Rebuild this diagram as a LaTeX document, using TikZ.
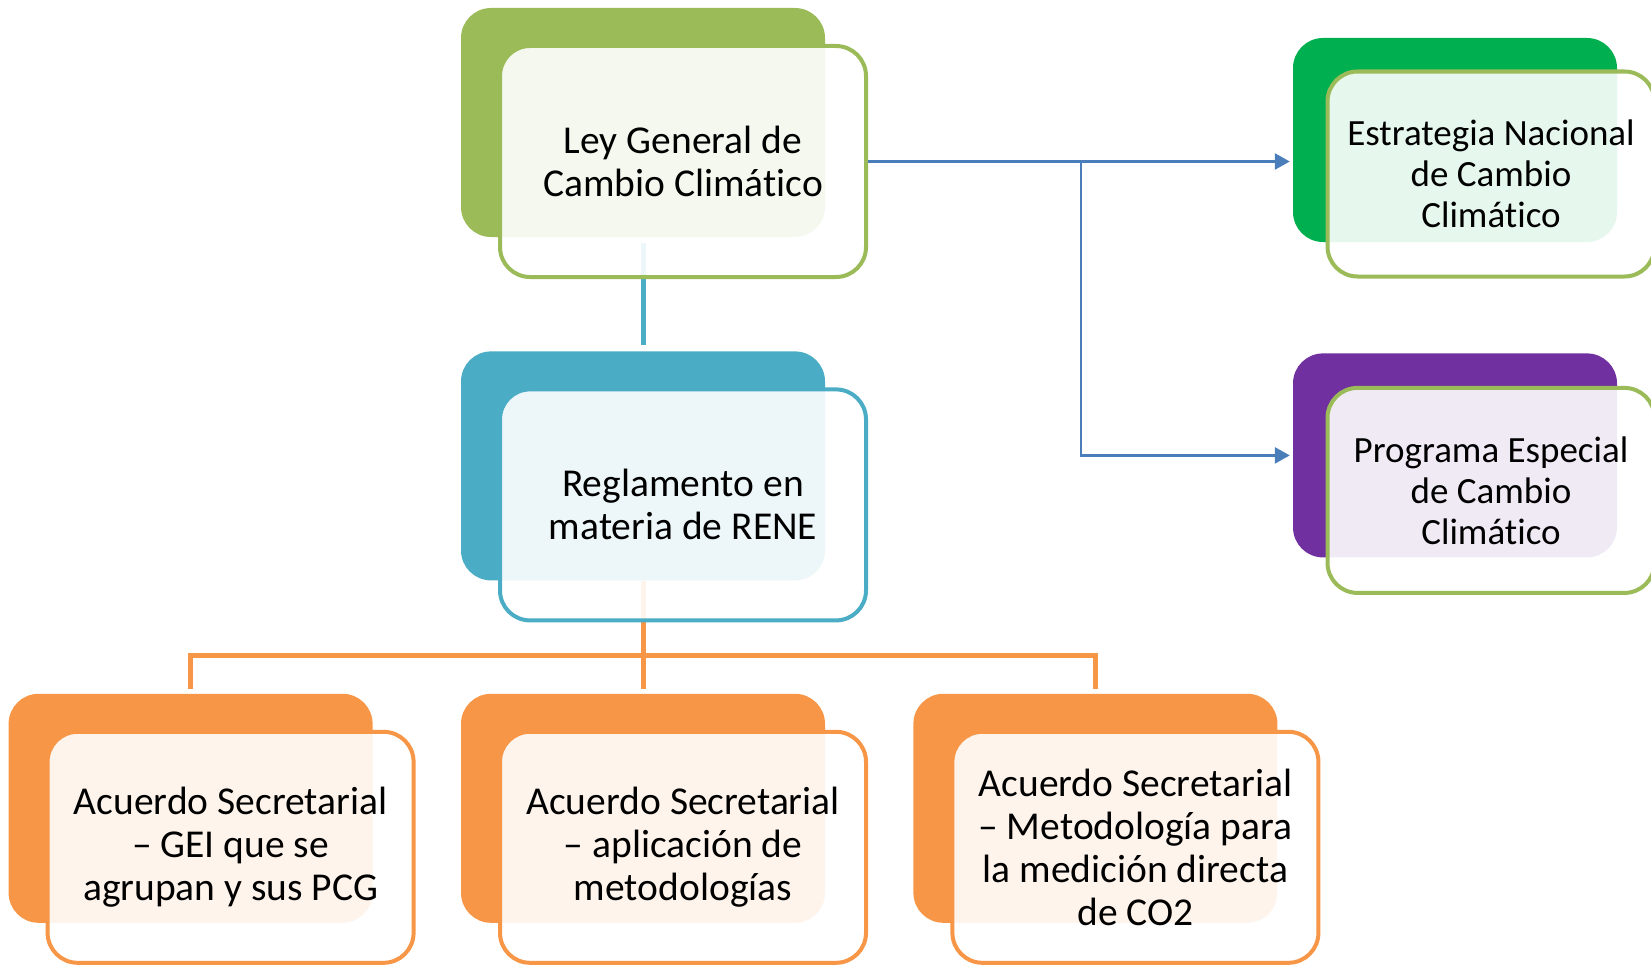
\documentclass[tikz,border=0pt]{standalone}
\usepackage{fontspec}
\setmainfont{Carlito}[Ligatures=NoCommon]
\usepackage{xcolor}
\usepackage{tikz}
\usetikzlibrary{positioning,arrows.meta,calc,backgrounds}
\definecolor{olive}{HTML}{9BBB59}
\definecolor{leaf}{HTML}{00B050}
\definecolor{plum}{HTML}{7030A0}
\definecolor{aqua}{HTML}{4BACC6}
\definecolor{amber}{HTML}{F79646}
\definecolor{steel}{HTML}{4A7EBB}
\tikzset{
  backblk/.style  ={rectangle, rounded corners=30pt, fill=#1, minimum width=364pt, minimum height=229pt, inner sep=0pt},
  frontblk/.style ={draw=#1, line width=4pt, rectangle, rounded corners=30pt, fill=white, fill opacity=0.9, text opacity=1,
                    minimum width=366pt, minimum height=231pt, align=center, font=\fontsize{39.5}{43}\selectfont},
  sbackblk/.style ={backblk=#1, minimum width=324pt, minimum height=204pt},
  sfrontblk/.style={frontblk=olive, minimum width=327pt, minimum height=205pt, font=\fontsize{37}{41}\selectfont},
  tline/.style    ={draw=aqua, line width=5pt},
  oline/.style    ={draw=amber, line width=5pt},
  arr/.style      ={draw=steel, line width=2.5pt, -{Triangle[length=15pt, width=16pt]}},
}

\begin{document}
\begin{tikzpicture}[x=1pt, y=-1pt]
  \useasboundingbox (0,0) rectangle (1651,966);
  % back plates
  \node[backblk=olive] (leyB) at (643,122.5) {};
  \node[backblk=aqua, below=114pt of leyB] (regB) {};
  \node[backblk=amber, below=113pt of regB] (ac2B) {};
  \node[backblk=amber, left=88pt of ac2B] (ac1B) {};
  \node[backblk=amber, right=88pt of ac2B] (ac3B) {};
  \node[sbackblk=leaf] (estB) at (1455,140) {};
  \node[sbackblk=plum, below=111pt of estB] (progB) {};

  % front cards
  \node[frontblk=olive] (ley) at ($(leyB)+(40,39)$) {Ley General de\\Cambio Climático};
  \node[frontblk=aqua]  (reg) at ($(regB)+(40,39)$) {Reglamento en\\materia de RENE};
  \node[frontblk=amber] (ac1) at ($(ac1B)+(40,39)$) {Acuerdo Secretarial\\– GEI que se\\agrupan y sus PCG};
  \node[frontblk=amber] (ac2) at ($(ac2B)+(40,39)$) {Acuerdo Secretarial\\– aplicación de\\metodologías};
  \node[frontblk=amber] (ac3) at ($(ac3B)+(40,39)$) {Acuerdo Secretarial\\– Metodología para\\la medición directa\\de CO2};
  \node[sfrontblk] (est)  at ($(estB)+(36,34)$)  {Estrategia Nacional\\de Cambio\\Climático};
  \node[sfrontblk] (prog) at ($(progB)+(36,35)$) {Programa Especial\\de Cambio\\Climático};

  \coordinate (bar)   at (643,655);
  \coordinate (split) at (1081,0);

  \begin{scope}[on background layer]
    \draw[tline, shorten <=6pt, shorten >=6pt] (leyB.south) -- (regB.north);
    \draw[oline] (regB.south) -- ([yshift=5pt]ac2B.north);
    \draw[oline] ([yshift=5pt]ac1B.north) |- (bar) -| ([yshift=5pt]ac3B.north);
  \end{scope}
  \draw[arr, shorten >=3pt] (ley.east) -- (ley.east -| estB.west);
  \draw[arr, shorten >=3pt] (ley.east -| split) |- (progB.west);
\end{tikzpicture}
\end{document}
